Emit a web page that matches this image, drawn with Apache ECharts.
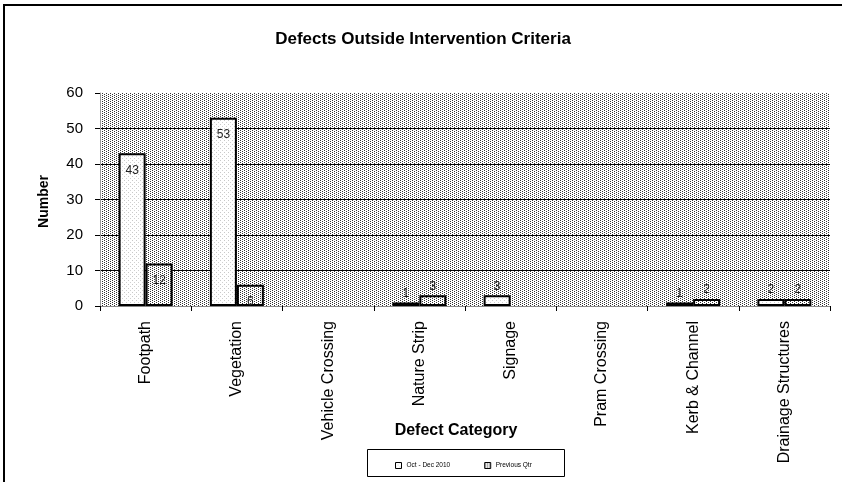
<!DOCTYPE html>
<html>
<head>
<meta charset="utf-8">
<script src="https://cdn.jsdelivr.net/npm/echarts@6/dist/echarts.min.js"></script>
<style>
html,body{margin:0;padding:0;background:#fff;}
#chart{width:842px;height:482px;}
</style>
</head>
<body>
<div id="chart"></div>
<script>
var categories = ['Footpath','Vegetation','Vehicle Crossing','Nature Strip','Signage','Pram Crossing','Kerb & Channel','Drainage Structures'];
var seriesNames = ['Oct - Dec 2010','Previous Qtr'];
var octDec2010 = [43,53,0,1,3,0,1,2];
var previousQtr = [12,6,0,3,0,0,2,2];
var yTicks = [0,10,20,30,40,50,60];

function makePattern(dots, w, h){
  var c = document.createElement('canvas');
  c.width = w; c.height = h;
  var ctx = c.getContext('2d');
  ctx.fillStyle = '#fff';
  ctx.fillRect(0,0,w,h);
  dots.forEach(function(d){ ctx.fillStyle = d[2]; ctx.fillRect(d[0], d[1], 1, 1); });
  return {image: c, repeat: 'repeat'};
}
var bgPattern = makePattern([[0,0,'#333'],[2,1,'#333']], 4, 2);
var densePattern = makePattern([[0,0,'#333'],[2,1,'#333']], 4, 2);
var lightPattern = makePattern([[0,0,'#c8c8c8'],[2,2,'#d0d0d0']], 4, 4);

function toBars(arr){
  return arr.map(function(v){
    if (v === 0) return '-';
    return {value: v, label: {position: v > 5 ? 'insideTop' : 'top', distance: v > 5 ? 11 : 3}};
  });
}

var chart = echarts.init(document.getElementById('chart'), null, {renderer: 'canvas'});
var font = 'Liberation Sans, Arial, sans-serif';
chart.setOption({
  animation: false,
  textStyle: {fontFamily: font},
  title: {
    text: 'Defects Outside Intervention Criteria',
    left: 418, top: 26, textAlign: 'center',
    textStyle: {fontSize: 17, fontWeight: 'bold', color: '#000', fontFamily: font}
  },
  grid: {
    left: 100, right: 12, top: 93, bottom: 176,
    show: true, backgroundColor: bgPattern, borderWidth: 0
  },
  legend: {
    left: 390, top: 457,
    itemWidth: 6, itemHeight: 6, itemGap: 34, itemTextGap: 3,
    icon: 'rect',
    textStyle: {fontSize: 6.5, color: '#000', fontFamily: font},
    itemStyle: {borderColor: '#000', borderWidth: 1},
    data: seriesNames
  },
  xAxis: {
    type: 'category',
    data: categories,
    axisLine: {show: true, lineStyle: {color: '#888', width: 1}},
    axisTick: {show: true, length: 5, interval: 0, lineStyle: {color: '#000'}},
    axisLabel: {rotate: 90, interval: 0, margin: 15, fontSize: 16, color: '#000', fontFamily: font}
  },
  yAxis: {
    type: 'value',
    min: 0, max: 60, interval: 10,
    axisLine: {show: true, lineStyle: {color: '#999', width: 1}},
    axisTick: {show: true, length: 5, lineStyle: {color: '#000'}},
    axisLabel: {fontSize: 15, color: '#000', margin: 17, fontFamily: font},
    splitLine: {show: true, showMaxLine: false, lineStyle: {color: '#000', width: 1}}
  },
  graphic: [
    {type: 'rect', shape: {x: 4, y: 5, width: 1000, height: 1000}, style: {fill: 'none', stroke: '#000', lineWidth: 2}, silent: true},
    {type: 'text', left: 37, top: 175, rotation: Math.PI/2,
      style: {text: 'Number', fill: '#000', font: 'bold 14px ' + font}},
    {type: 'text', x: 456, y: 431,
      style: {text: 'Defect Category', fill: '#000', font: 'bold 16px ' + font, textAlign: 'center', textVerticalAlign: 'middle'}},
    {type: 'rect', shape: {x: 367.5, y: 449.5, width: 197, height: 27}, style: {fill: 'none', stroke: '#000', lineWidth: 1}, silent: true, z: -1}
  ],
  series: [
    {
      name: seriesNames[0], type: 'bar', data: toBars(octDec2010),
      barWidth: 27, barGap: '0%',
      itemStyle: {color: lightPattern, borderColor: '#000', borderWidth: 2},
      label: {show: true, fontSize: 12, color: '#222', fontFamily: font}
    },
    {
      name: seriesNames[1], type: 'bar', data: toBars(previousQtr),
      barWidth: 27, barGap: '0%',
      itemStyle: {color: densePattern, borderColor: '#000', borderWidth: 2},
      label: {show: true, fontSize: 12, color: '#222', fontFamily: font}
    }
  ]
});
</script>
</body>
</html>
